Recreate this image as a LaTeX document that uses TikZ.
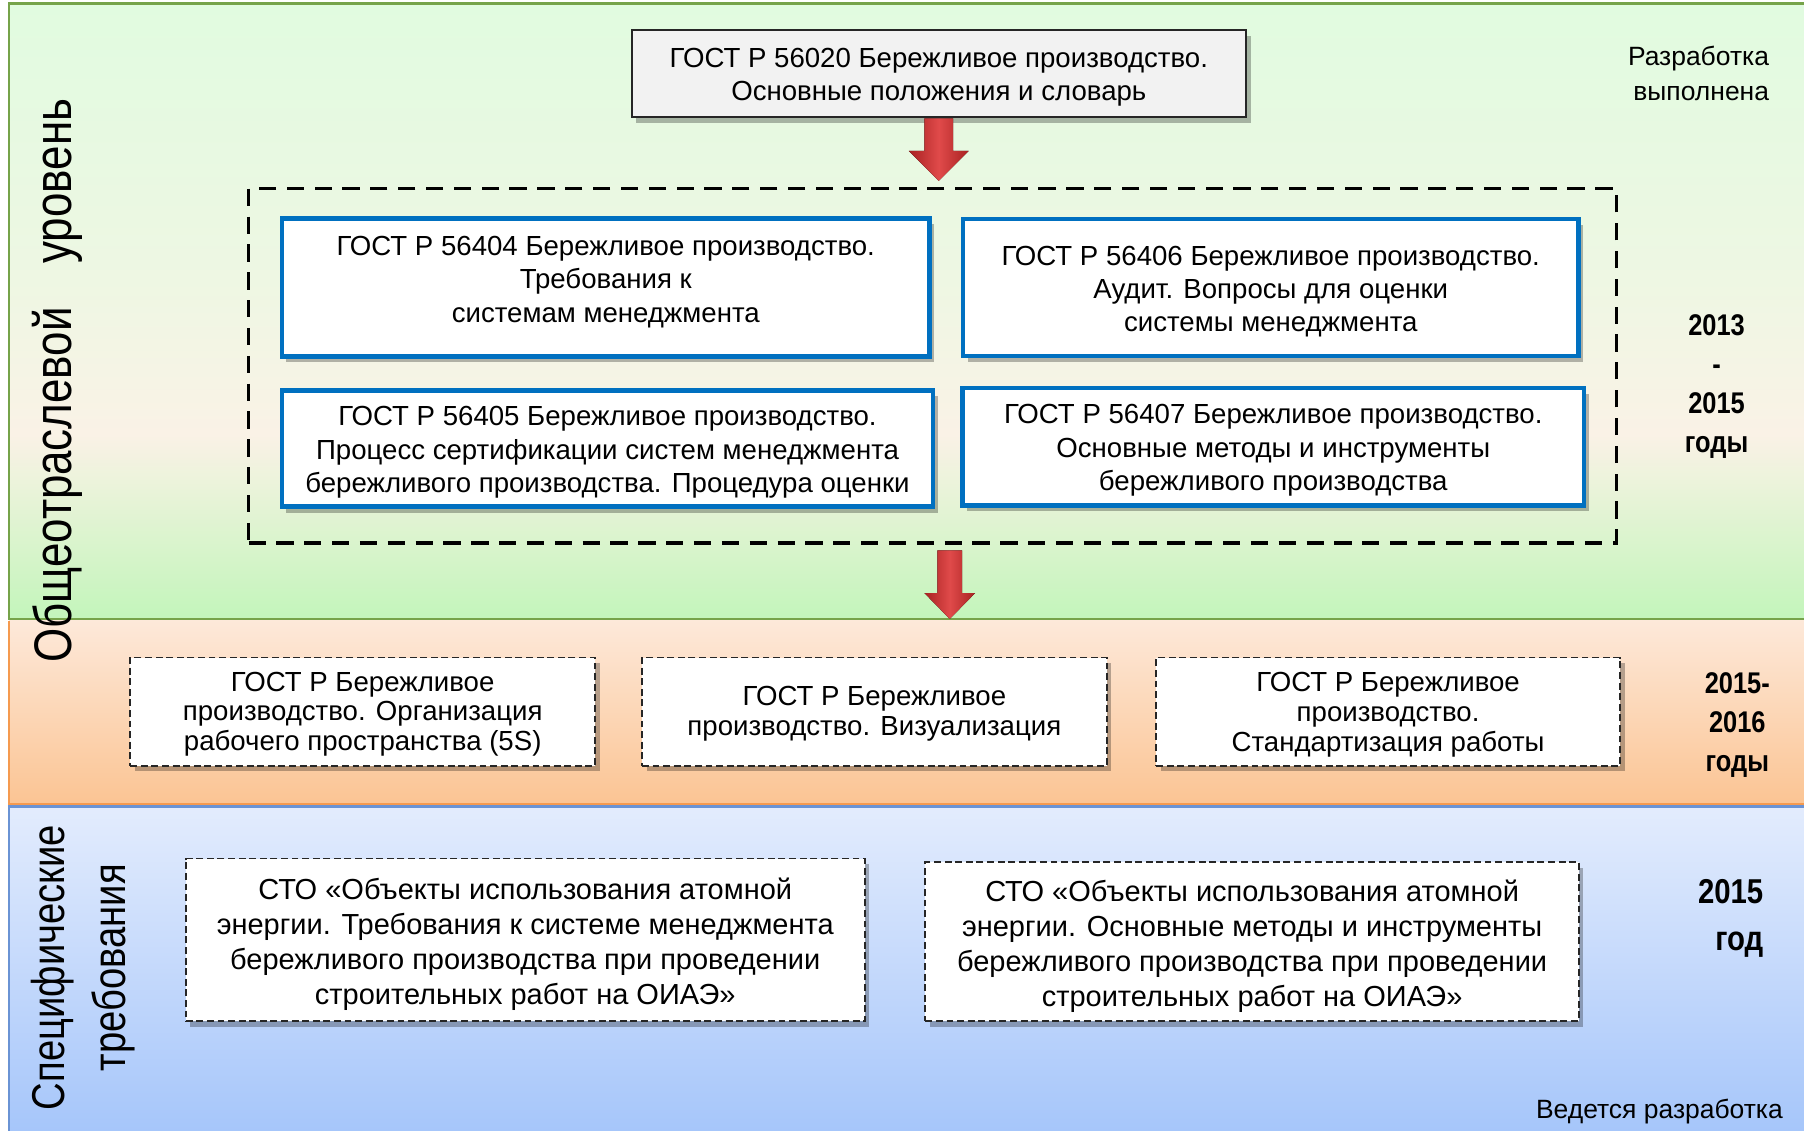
\documentclass[tikz,border=0pt]{standalone}
\usepackage{fontspec}
\setmainfont{Liberation Sans}
\newfontfamily\narrowfont[FakeStretch=0.85]{Liberation Sans}
\newfontfamily\rotfont[FakeStretch=0.83]{Liberation Sans}
\usetikzlibrary{shadows,calc}

\definecolor{gB1}{HTML}{E1FBE0}
\definecolor{gB2}{HTML}{EEF7E3}
\definecolor{gB3}{HTML}{FAF2E6}
\definecolor{gB4}{HTML}{C3F5BB}
\definecolor{oTop}{HTML}{FDE9DA}
\definecolor{oBot}{HTML}{FBC493}
\definecolor{bTop}{HTML}{E3ECFD}
\definecolor{bBot}{HTML}{A6C6FA}
\definecolor{greenline}{HTML}{76A34A}
\definecolor{orangeline}{HTML}{F59A4F}
\definecolor{blueline}{HTML}{6A93D4}
\definecolor{boxblue}{HTML}{0070C0}
\definecolor{boxgray}{HTML}{F2F2F2}
\definecolor{arrowdark}{HTML}{A82222}
\definecolor{arrowlight}{HTML}{E04A4A}

\pgfdeclareverticalshading{gband}{100bp}{color(0bp)=(gB4); color(25bp)=(gB4); color(40bp)=(gB3); color(52.5bp)=(gB2); color(75bp)=(gB1); color(100bp)=(gB1)}

\newcommand\fatarrow[5]{%
  \fill[arrowfill] ($(#1)+(-#3,0)$) -- ($(#2)+(-#3,-#5)$) -- ($(#2)+(-#4,-#5)$) -- (#2) -- ($(#2)+(#4,-#5)$) -- ($(#2)+(#3,-#5)$) -- ($(#1)+(#3,0)$) -- cycle;}
\newcommand\lift[1]{\rule{0pt}{#1}}

\begin{document}
\begin{tikzpicture}[x=0.5pt,y=-0.5pt,
  boxshadow/.style={drop shadow={shadow xshift=2pt, shadow yshift=-2.5pt, fill=black, opacity=0.28}},
  bodytext/.style={font=\fontsize{12pt}{14.5pt}\selectfont},
  topbox/.style={draw=black!85, line width=0.8pt, fill=boxgray, inner sep=0pt, align=center, bodytext, boxshadow},
  bluebox/.style={draw=boxblue, line width=2pt, fill=white, inner sep=0pt, align=center, bodytext, boxshadow},
  dashbox/.style={draw=black!85, line width=0.8pt, dash pattern=on 3pt off 1.6pt, fill=white, inner sep=0pt, align=center, font=\fontsize{12pt}{13pt}\selectfont, boxshadow},
  stobox/.style={dashbox, font=\fontsize{12.6pt}{15.2pt}\selectfont},
  grpframe/.style={draw=black, line width=1.6pt, dash pattern=on 7.5pt off 4.6pt, inner sep=0pt},
  arrowfill/.style={left color=arrowdark, right color=arrowdark, middle color=arrowlight},
  yearlbl/.style={inner sep=0pt, align=center, font=\narrowfont\bfseries\fontsize{13pt}{17pt}\selectfont},
  notelbl/.style={inner sep=0pt, font=\fontsize{11.5pt}{15pt}\selectfont},
  rotlbl/.style={rotate=90, inner sep=0pt, align=center}
]
\useasboundingbox (0,0) rectangle (1568,983);
\fill[white] (0,0) rectangle (1568,983);

% bands
\shade[shading=gband] (8,3) rectangle (1568,538);
\shade[top color=oTop, bottom color=oBot] (8,538) rectangle (1568,700);
\shade[top color=bTop, bottom color=bBot] (8,700) rectangle (1568,983);
\draw[greenline, line width=1pt] (1568,3) -- (8,3) -- (8,538) -- (1568,538);
\draw[orangeline, line width=1pt] (8,539.5) -- (8,699) -- (1568,699);
\draw[blueline, line width=1pt] (1568,701) -- (8,701) -- (8,983);
\coordinate (bandsplit) at (0,538);

% level labels
\node[rotlbl, anchor=base, font=\rotfont\fontsize{23pt}{27pt}\selectfont] (lvl1) at (62,331) {Общеотраслевой\hspace{19pt}уровень};
\node[rotlbl, font=\rotfont\fontsize{20pt}{26.5pt}\selectfont] (lvl2) at (72.5,841) {Специфические\\требования};

% top box
\node[topbox, minimum width=267pt, minimum height=38pt] (t0) at (816,64) {\lift{11.6pt}ГОСТ Р 56020 Бережливое производство.\\Основные положения и словарь};

% dashed group frame
\node[grpframe, minimum width=594.5pt, minimum height=154pt] (grp) at (810.5,317.85) {};

% four blue boxes
\node[bluebox, minimum width=281.5pt, minimum height=60pt] (g404) at (526.5,250) {};
\node[bodytext, align=center, inner sep=0pt] (g404t) at ($(g404.center)+(0,-5)$) {ГОСТ Р 56404 Бережливое производство.\\Требования к\\системам менеджмента};
\node[bluebox, minimum width=267.5pt, minimum height=59.5pt] (g406) at (1104.5,250) {\lift{11.8pt}ГОСТ Р 56406 Бережливое производство.\\Аудит. Вопросы для оценки\\системы менеджмента};
\node[bluebox, minimum width=283pt, minimum height=50.5pt] (g405) at (528,390) {\lift{11.6pt}ГОСТ Р 56405 Бережливое производство.\\Процесс сертификации систем менеджмента\\бережливого производства. Процедура оценки};
\node[bluebox, minimum width=270pt, minimum height=51pt] (g407) at (1106.7,388.4) {\lift{11.6pt}ГОСТ Р 56407 Бережливое производство.\\Основные методы и инструменты\\бережливого производства};

% arrows
\coordinate (a1top) at (t0.south);
\coordinate (a1tip) at ($(t0.south |- grp.north)+(0,-5)$);
\fatarrow{a1top}{a1tip}{12.5}{26}{26}
\coordinate (a2top) at ($(grp.south)+(15,5)$);
\coordinate (a2tip) at (a2top |- bandsplit);
\fatarrow{a2top}{a2tip}{10.7}{22}{22.5}

% orange band boxes
\node[dashbox, minimum width=202pt, minimum height=47pt] (o5s) at (315.25,618.5) {\lift{10.6pt}ГОСТ Р Бережливое\\производство. Организация\\рабочего пространства (5S)};
\node[dashbox, minimum width=202pt, minimum height=47pt] (ovis) at (760,618.5) {\lift{10.6pt}ГОСТ Р Бережливое\\производство. Визуализация};
\node[dashbox, minimum width=201.5pt, minimum height=47pt] (ostd) at (1206.5,618.5) {\lift{10.8pt}ГОСТ Р Бережливое\\производство.\\Стандартизация работы};

% blue band boxes
\node[stobox, minimum width=295pt, minimum height=70.75pt] (sto1) at (456.5,817) {\lift{13.2pt}СТО «Объекты использования атомной\\энергии. Требования к системе менеджмента\\бережливого производства при проведении\\строительных работ на ОИАЭ»};
\node[stobox, minimum width=284pt, minimum height=69pt] (sto2) at (1088.3,818.5) {\lift{13.2pt}СТО «Объекты использования атомной\\энергии. Основные методы и инструменты\\бережливого производства при проведении\\строительных работ на ОИАЭ»};

% right-hand labels
\node[notelbl, align=right, anchor=east] (done) at (1538,64) {Разработка\\выполнена};
\node[yearlbl] (y1) at (1492,336) {2013\\-\\2015\\годы};
\node[yearlbl] (y2) at (1510,630) {2015-\\2016\\годы};
\node[yearlbl, align=right, anchor=east, font=\narrowfont\bfseries\fontsize{15pt}{20.3pt}\selectfont] (y3) at (1533,798) {2015\\год};
\node[notelbl, anchor=east] (dev) at (1550,966) {Ведется разработка};
\end{tikzpicture}
\end{document}
